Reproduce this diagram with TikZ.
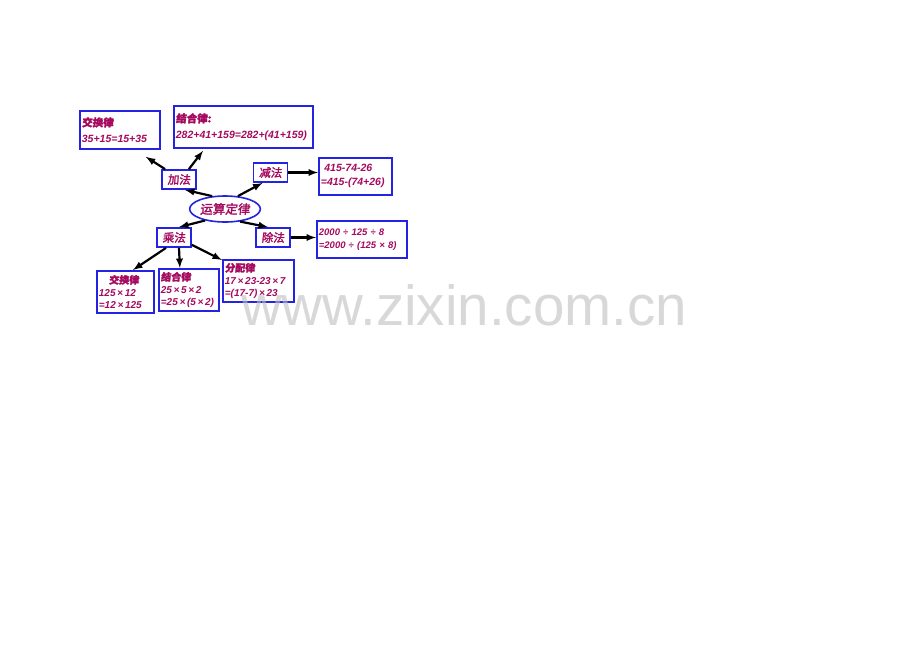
\documentclass[tikz,border=0pt]{standalone}
\usepackage{fontspec}
\setmainfont{Liberation Sans}
\newfontfamily\cjk{Noto Sans CJK SC}[FakeBold=2,FakeSlant=0.1]
\usepackage{tikz}
\usetikzlibrary{arrows,shapes}
\definecolor{ink}{RGB}{165,10,95}
\definecolor{rim}{RGB}{35,35,225}
\definecolor{mark}{RGB}{190,190,190}
\tikzstyle{op}=[draw=rim,line width=1.8pt,fill=white,text=ink,minimum width=34pt,minimum height=19pt,inner sep=1pt,font=\fontsize{11.5}{12}\selectfont\cjk]
\tikzstyle{core}=[ellipse,draw=rim,line width=1.6pt,fill=white,text=ink,minimum width=68pt,minimum height=26pt,inner sep=0pt,font=\fontsize{12.5}{13}\selectfont\cjk]
\tikzstyle{law}=[draw=rim,line width=1.8pt,fill=white,text=ink,anchor=north west,align=left,inner sep=2pt,font=\bfseries\itshape\fontsize{10.5}{16}\selectfont]
\tikzstyle{small law}=[law,font=\bfseries\itshape\fontsize{10}{12.5}\selectfont]

\begin{document}
\begin{tikzpicture}[->,>=latex,x=1pt,y=-1pt,line width=2.2pt]
	\useasboundingbox[fill=white] (0,0) rectangle (920,651);

	\node[core] (yun) at (225,209) {运算定律};
	\node[op] (jia) at (179,179.5) {加法};
	\node[op] (jian) at (270.5,172.5) {减法};
	\node[op] (cheng) at (174,237.5) {乘法};
	\node[op] (chu) at (273,237.5) {除法};

	% addition
	\node[law,text width=76pt,minimum height=38pt] (jiaa) at (79,110) {{\cjk 交换律}\\35+15=15+35};
	\node[law,text width=135pt,minimum height=42pt] (jiab) at (173,105) {{\cjk 结合律:}\\282+41+159=282+(41+159)};
	% subtraction, division
	\node[law,text width=69pt,minimum height=37pt,font=\bfseries\itshape\fontsize{10.5}{14}\selectfont] (jiana) at (318,157) {\ 415-74-26\\ =415-(74+26)};
	\node[law,text width=86pt,minimum height=37pt,font=\bfseries\itshape\fontsize{9.5}{13}\selectfont] (chua) at (316,220) {2000 ÷ 125 ÷ 8\\=2000 ÷ (125 × 8)};
	% multiplication
	\node[small law,text width=53pt,minimum height=42pt] (chenga) at (96,270) {\quad{\cjk 交换律}\\125\,×\,12\\=12\,×\,125};
	\node[small law,text width=56pt,minimum height=42pt] (chengb) at (158,268) {{\cjk 结合律}\\25\,×\,5\,×\,2\\=25\,×\,(5\,×\,2)};
	\node[small law,text width=67pt,minimum height=42pt] (chengc) at (222,259) {{\cjk 分配律}\\17\,×\,23-23\,×\,7\\=(17-7)\,×\,23};

	\path
		(yun.135)	edge	([xshift=6pt]jia.south)
		(yun.45)	edge	([xshift=-8pt]jian.south)
		(yun.210)	edge	([xshift=5pt]cheng.north)
		(yun.-40)	edge	([xshift=-5pt]chu.north)
		([xshift=4pt]jia.north west)	edge	([xshift=-15pt,yshift=-7pt]jiaa.south east)
		([xshift=-8pt]jia.north east)	edge	([xshift=30pt,yshift=-2pt]jiab.south west)
		(jian.east)	edge	(jian.east -| jiana.west)
		(chu.east)	edge	(chu.east -| chua.west)
		([xshift=-8pt]cheng.south)	edge	([xshift=37pt]chenga.north west)
		([xshift=5pt]cheng.south)	edge	([xshift=-9pt]chengb.north)
		([yshift=3pt]cheng.south east)	edge	([yshift=-1pt]chengc.north west);

	\node[anchor=base west,inner sep=0pt,text=mark,text opacity=0.6,font=\fontsize{56.5}{56.5}\selectfont] (wm) at (240,325) {www.zixin.com.cn};
\end{tikzpicture}
\end{document}
